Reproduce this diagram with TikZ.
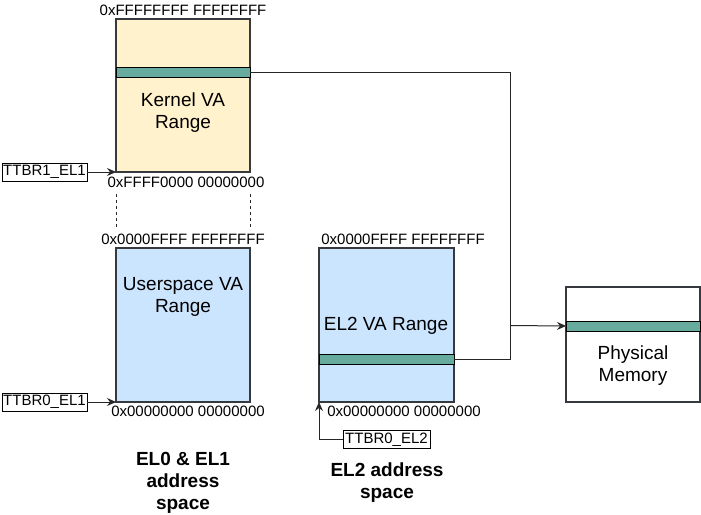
\documentclass[tikz,border=0pt]{standalone}
\usepackage{fontspec}
\setmainfont{Liberation Sans}
\usetikzlibrary{arrows.meta}
\definecolor{kyellow}{HTML}{FFF2CC}
\definecolor{ublue}{HTML}{CCE5FF}
\definecolor{bandgreen}{HTML}{67AB9F}
\definecolor{edge}{HTML}{36393D}
\begin{document}
\begin{tikzpicture}[x=1pt,y=-1pt,
  region/.style={draw=edge,line width=1.1pt,anchor=north west,inner sep=0pt,outer sep=0pt},
  band/.style={draw=black,fill=bandgreen,line width=1pt,anchor=north west,inner sep=0pt,outer sep=0pt,minimum height=10pt},
  big/.style={font=\fontsize{19}{22}\selectfont,align=center,inner sep=0pt},
  hex/.style={font=\fontsize{15}{17}\selectfont,inner sep=0pt},
  reg/.style={draw=black,line width=0.9pt,font=\fontsize{15}{17}\selectfont,inner sep=1pt,minimum height=18pt,minimum width=85pt},
  title/.style={font=\fontsize{19}{22}\selectfont\bfseries,align=center,inner sep=0pt},
  wire/.style={line width=1pt,draw=black!85},
  arr/.style={wire,-{Stealth[length=9pt,width=8pt,inset=3pt]}}
]
\useasboundingbox (0,0) rectangle (701,514);

% Kernel region
\node[region,fill=kyellow,minimum width=134pt,minimum height=153pt] (kernel) at (116,19) {};
\node[band,minimum width=134pt] (kband) at (116,67) {};
\node[big] (klabel) at (183,113) {Kernel VA\\Range};
\node[hex] (ktop) at (183,10) {0xFFFFFFFF FFFFFFFF};
\node[hex] (kbot) at (186,182) {0xFFFF0000 00000000};

% User region
\node[region,fill=ublue,minimum width=134pt,minimum height=154pt] (user) at (116,248) {};
\node[big] (ulabel) at (183,297) {Userspace VA\\Range};
\node[hex] (utop) at (183,239) {0x0000FFFF FFFFFFFF};
\node[hex] (ubot) at (188,411) {0x00000000 00000000};

% EL2 region
\node[region,fill=ublue,minimum width=135pt,minimum height=154pt] (el2) at (319,248) {};
\node[band,minimum width=135pt] (eband) at (319,354) {};
\node[big] (elabel) at (386,326) {EL2 VA Range};
\node[hex] (etop) at (403,239) {0x0000FFFF FFFFFFFF};
\node[hex] (ebot) at (404,411) {0x00000000 00000000};

% Physical memory
\node[region,fill=white,minimum width=134pt,minimum height=115pt] (phys) at (566,287) {};
\node[band,minimum width=134pt] (pband) at (566,321) {};
\node[big] (plabel) at (633,366) {Physical\\Memory};

% Registers
\node[reg] (t1) at (44.5,172) {TTBR1\_EL1};
\node[reg] (t0) at (44.5,402) {TTBR0\_EL1};
\node[reg,minimum width=87pt] (t2) at (386.5,439.5) {TTBR0\_EL2};

% Titles
\node[title] (title1) at (183,483) {EL0 \& EL1\\address\\space};
\node[title] (title2) at (387,483) {EL2 address\\space};

% Dashed separators
\coordinate (d1a) at (116,194); \coordinate (d1b) at (116,229);
\coordinate (d2a) at (250,194); \coordinate (d2b) at (250,229);
\draw[wire,dash pattern=on 3pt off 3pt] (d1a) -- (d1b);
\draw[wire,dash pattern=on 3pt off 3pt] (d2a) -- (d2b);

% Mapping connectors
\coordinate (jt) at (510,325.5);
\draw[wire] (kband.east) -| (jt);
\draw[wire] (eband.east) -| (jt);
\draw[arr] (jt) -- (pband.west);

% Register arrows
\draw[arr] (t1.east) -- (kernel.south west);
\draw[arr] (t0.east) -- (user.south west);
\draw[arr] (t2.west) -| (el2.south west);
\end{tikzpicture}
\end{document}
